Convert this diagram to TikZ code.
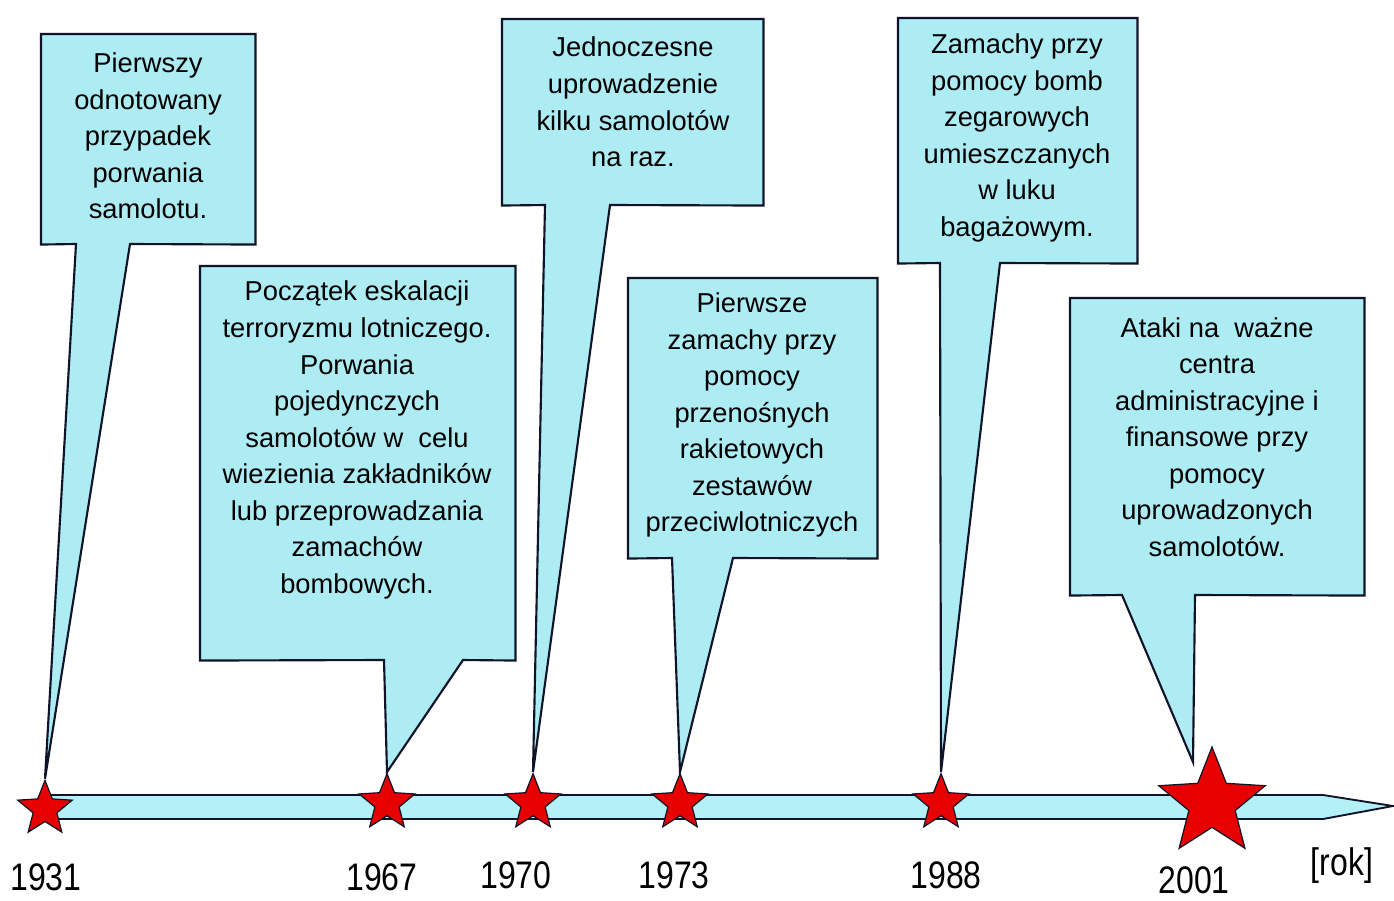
\documentclass[tikz,border=0pt]{standalone}
\usepackage{fontspec}
\setmainfont{Liberation Sans}
\usetikzlibrary{shapes.geometric,backgrounds}
\definecolor{boxfill}{RGB}{174,236,244}
\definecolor{barfill}{RGB}{180,240,248}
\definecolor{starred}{RGB}{230,0,0}
\definecolor{edge}{RGB}{16,20,40}
\tikzset{
  callout/.style={fill=boxfill, draw=edge, line width=1.6pt, line join=miter},
  bar/.style={fill=barfill, draw=edge, line width=1.4pt},
  anchorbox/.style={draw=none, fill=none, inner sep=0pt, anchor=north west},
  txt/.style={align=center, font=\fontsize{20.5}{27.4}\selectfont, inner sep=0pt, text=black},
  yr/.style={font=\fontsize{24}{28}\selectfont, inner sep=0pt, text=black},
  starmark/.style={star, star points=5, star point ratio=2.3, fill=starred, draw=edge, line width=0.9pt, inner sep=0pt},
}
\begin{document}
\begin{tikzpicture}[x=0.75pt,y=-0.75pt]
\useasboundingbox (0,0) rectangle (1394,900);

% stars
\node[starmark, minimum size=43pt] (s1) at (45,809) {};
\node[starmark, minimum size=44pt] (s2) at (387,803) {};
\node[starmark, minimum size=44pt] (s3) at (533,803) {};
\node[starmark, minimum size=44pt] (s4) at (680,803) {};
\node[starmark, minimum size=44pt] (s5) at (941,803) {};
\node[starmark, minimum size=84pt] (s6) at (1212,803) {};

% boxes (invisible anchors)
\node[anchorbox, minimum width=160.5pt, minimum height=157.5pt] (b1) at (41,34) {};
\node[anchorbox, minimum width=236.25pt, minimum height=295.5pt] (b2) at (200,266) {};
\node[anchorbox, minimum width=195.75pt, minimum height=139.5pt] (b3) at (502,19) {};
\node[anchorbox, minimum width=186.75pt, minimum height=210pt] (b4) at (628,278) {};
\node[anchorbox, minimum width=179.25pt, minimum height=183.75pt] (b5) at (898,18) {};
\node[anchorbox, minimum width=220.5pt, minimum height=222.75pt] (b6) at (1070,298) {};

% tail base points
\coordinate (b1l) at (76,244);   \coordinate (b1r) at (130,244);
\coordinate (b2l) at (384,660);  \coordinate (b2r) at (463,660);
\coordinate (b3l) at (545,205);  \coordinate (b3r) at (610,205);
\coordinate (b4l) at (672,558);  \coordinate (b4r) at (733,558);
\coordinate (b5l) at (940,263);  \coordinate (b5r) at (1000,263);
\coordinate (b6l) at (1122,595); \coordinate (b6r) at (1195,595);
\coordinate (tip6) at (1193,762);

\begin{scope}[on background layer]
  \fill[white] (0,0) rectangle (1394,900);
  % timeline bar
  \draw[bar] (42,795) -- (1323,795) -- (1393,806) -- (1323,819) -- (42,819) -- cycle;
  % callouts
  \draw[callout] (b1.south west) -- (b1.north west) -- (b1.north east) -- (b1.south east) -- (b1r) -- (s1.north) -- (b1l) -- cycle;
  \draw[callout] (b2.south west) -- (b2.north west) -- (b2.north east) -- (b2.south east) -- (b2r) -- (s2.north) -- (b2l) -- cycle;
  \draw[callout] (b3.south west) -- (b3.north west) -- (b3.north east) -- (b3.south east) -- (b3r) -- (s3.north) -- (b3l) -- cycle;
  \draw[callout] (b4.south west) -- (b4.north west) -- (b4.north east) -- (b4.south east) -- (b4r) -- (s4.north) -- (b4l) -- cycle;
  \draw[callout] (b5.south west) -- (b5.north west) -- (b5.north east) -- (b5.south east) -- (b5r) -- (s5.north) -- (b5l) -- cycle;
  \draw[callout] (b6.south west) -- (b6.north west) -- (b6.north east) -- (b6.south east) -- (b6r) -- (tip6) -- (b6l) -- cycle;
\end{scope}

% texts
\node[txt] (t1) at (148,136) {Pierwszy\\odnotowany\\przypadek\\porwania\\samolotu.};
\node[txt] (t2) at (357,440) {Początek eskalacji\\terroryzmu lotniczego.\\Porwania\\pojedynczych\\samolotów w\ \ celu\\wiezienia zakładników\\lub przeprowadzania\\zamachów\\bombowych.};
\node[txt] (t3) at (633,102) {Jednoczesne\\uprowadzenie\\kilku samolotów\\na raz.};
\node[txt] (t4) at (752,415) {Pierwsze\\zamachy przy\\pomocy\\przenośnych\\rakietowych\\zestawów\\przeciwlotniczych};
\node[txt] (t5) at (1017,138) {Zamachy przy\\pomocy bomb\\zegarowych\\umieszczanych\\w luku\\bagażowym.};
\node[txt] (t6) at (1217,437) {Ataki na\ \ ważne\\centra\\administracyjne i\\finansowe przy\\pomocy\\uprowadzonych\\samolotów.};

% years
\node[yr] (y1) at (46,877) {\scalebox{1}[1.2]{1931}};
\node[yr] (y2) at (382,877) {\scalebox{1}[1.2]{1967}};
\node[yr] (y3) at (516,875) {\scalebox{1}[1.2]{1970}};
\node[yr] (y4) at (674,875) {\scalebox{1}[1.2]{1973}};
\node[yr] (y5) at (946,875) {\scalebox{1}[1.2]{1988}};
\node[yr] (y6) at (1194,880) {\scalebox{1}[1.2]{2001}};
\node[yr] (rok) at (1342,866) {\scalebox{1}[1.2]{[rok]}};
\end{tikzpicture}
\end{document}
